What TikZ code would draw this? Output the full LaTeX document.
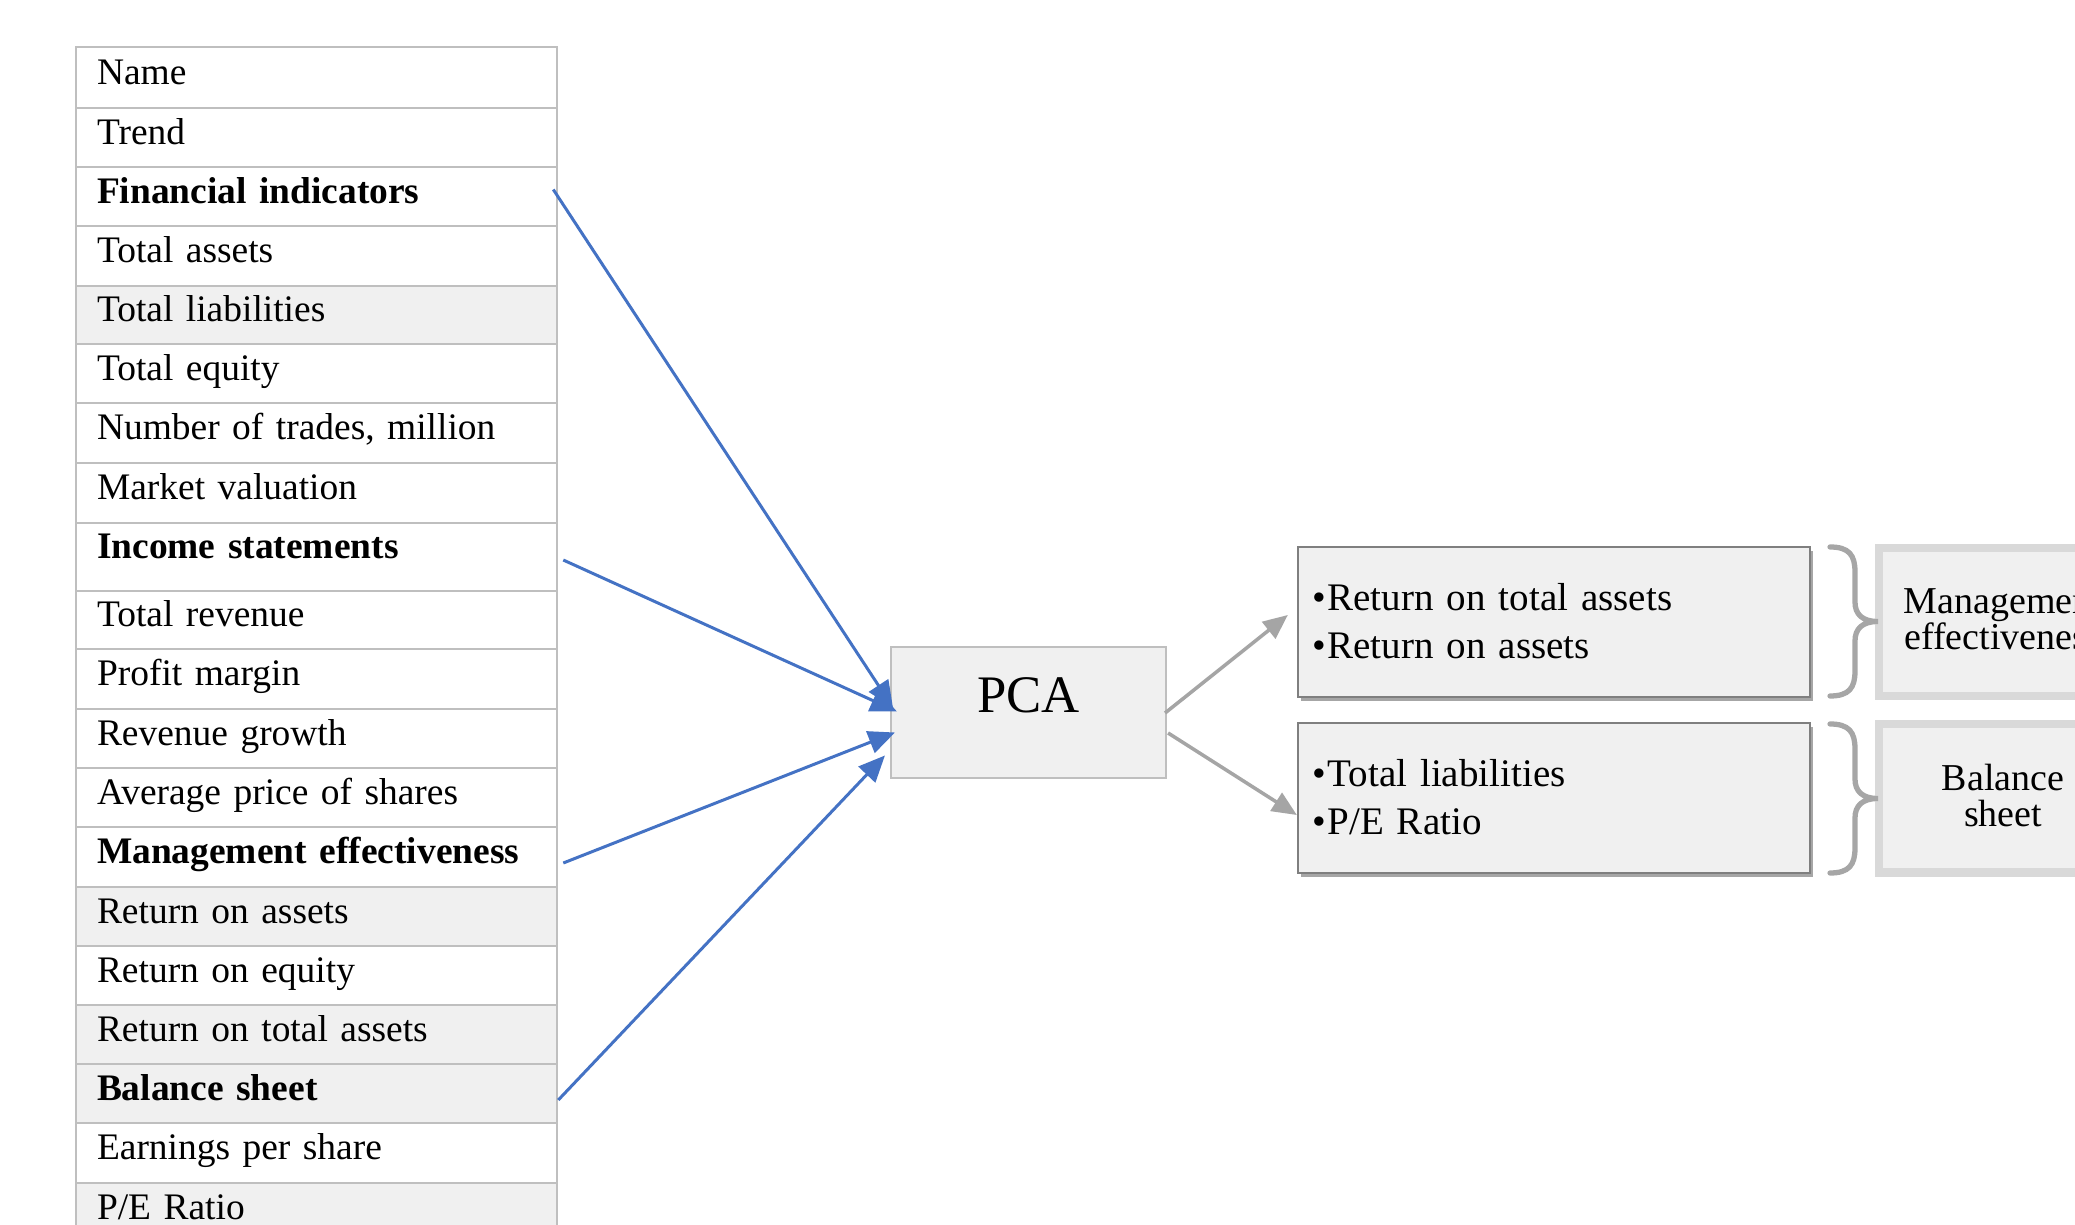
\documentclass[tikz,border=0pt]{standalone}
\usepackage{fontspec}
\setmainfont{Liberation Serif}
\usetikzlibrary{arrows.meta,shadows,calc}
\definecolor{blueA}{HTML}{4472C4}
\definecolor{arrgrey}{HTML}{A5A5A5}
\definecolor{tblgrey}{HTML}{BFBFBF}
\definecolor{cellfill}{HTML}{F0F0F0}
\definecolor{resborder}{HTML}{7F7F7F}
\definecolor{labborder}{HTML}{D9D9D9}
\definecolor{bracegrey}{HTML}{A6A6A6}
\newcommand\mytabfont{\fontsize{10.65}{13}\selectfont}
\newcommand\myresfont{\fontsize{11.1}{13.4}\selectfont}
\newcommand\mylabfont{\fontsize{10.8}{10.2}\selectfont}
\begin{document}
\begin{tikzpicture}[x=0.01cm,y=-0.01cm,
  cell/.style={draw=tblgrey, line width=0.57pt, anchor=north west, outer sep=0pt,
    text width=4.39cm, inner xsep=0.21cm, inner ysep=0pt, align=left,
    font=\mytabfont, text height=7.4pt, text depth=3.7pt},
  greycell/.style={cell, fill=cellfill},
  pcabox/.style={draw=tblgrey, line width=0.6pt, fill=cellfill, minimum width=2.75cm,
    minimum height=1.31cm, font=\fontsize{15}{18}\selectfont, text height=11pt, text depth=11pt,
    inner sep=0pt, outer sep=0pt},
  resbox/.style={draw=resborder, line width=0.6pt, fill=cellfill, minimum height=1.5cm,
    text width=4.82cm, inner xsep=0.15cm, inner ysep=0pt, align=left, font=\myresfont,
    text height=8pt, text depth=14.3pt, outer sep=0pt,
    drop shadow={shadow xshift=0.9pt, shadow yshift=-1.1pt, opacity=0.35, fill=black}},
  labbox/.style={draw=labborder, line width=2.3pt, fill=cellfill, minimum width=2.48cm,
    minimum height=1.48cm, text width=2.4cm, inner sep=0pt, align=center, font=\mylabfont,
    text height=8pt, text depth=12.6pt},
  bluearrow/.style={draw=blueA, line width=0.85pt, -{Triangle[length=7.5pt,width=6.5pt]}},
  greyarrow/.style={draw=arrgrey, line width=1pt, -{Triangle[length=7pt,width=6pt]}},
  bracestyle/.style={draw=bracegrey, line width=1.5pt, line cap=round}
]
\useasboundingbox (0,0) rectangle (2075,1225);
\fill[white] (0,0) rectangle (2075,1225);
\clip (0,0) rectangle (2075,1225);

% table
\node[cell, minimum height=0.61cm] (name) at (76,47) {Name};
\node[cell, minimum height=0.59cm] (trend) at (76,108) {Trend};
\node[cell, minimum height=0.59cm] (fin) at (76,167) {\textbf{Financial indicators}};
\node[cell, minimum height=0.60cm] (tassets) at (76,226) {Total assets};
\node[greycell, minimum height=0.58cm] (tliab) at (76,286) {Total liabilities};
\node[cell, minimum height=0.59cm] (teq) at (76,344) {Total equity};
\node[cell, minimum height=0.60cm] (ntrades) at (76,403) {Number of trades, million};
\node[cell, minimum height=0.60cm] (mval) at (76,463) {Market valuation};
\node[cell, minimum height=0.68cm, text depth=6.8pt] (income) at (76,523) {\textbf{Income statements}};
\node[cell, minimum height=0.58cm] (trev) at (76,591) {Total revenue};
\node[cell, minimum height=0.60cm] (pmargin) at (76,649) {Profit margin};
\node[cell, minimum height=0.59cm] (rgrowth) at (76,709) {Revenue growth};
\node[cell, minimum height=0.59cm] (avgprice) at (76,768) {Average price of shares};
\node[cell, minimum height=0.60cm] (mgmt) at (76,827) {\textbf{Management effectiveness}};
\node[greycell, minimum height=0.59cm] (roa) at (76,887) {Return on assets};
\node[cell, minimum height=0.59cm] (roe) at (76,946) {Return on equity};
\node[greycell, minimum height=0.59cm] (rota) at (76,1005) {Return on total assets};
\node[greycell, minimum height=0.59cm] (bal) at (76,1064) {\textbf{Balance sheet}};
\node[cell, minimum height=0.60cm] (eps) at (76,1123) {Earnings per share};
\node[greycell, minimum height=0.60cm] (pe) at (76,1183) {P/E Ratio};

% PCA
\node[pcabox] (pca) at (1028.5,712.5) {PCA};

% result boxes
\node[resbox] (res1) at (1554,622) {•\hspace{0.3pt}Return on total assets\\•\hspace{0.3pt}Return on assets};
\node[resbox] (res2) at (1554,798) {•\hspace{0.3pt}Total liabilities\\•\hspace{0.3pt}P/E Ratio};

% label boxes
\node[labbox] (lab1) at (2003,622) {Management\\effectiveness};
\node[labbox, text depth=12.3pt] (lab2) at (2003,798.5) {Balance\\sheet};

% braces
\draw[bracestyle] (1830,547) .. controls (1849,547) and (1855,555) .. (1855,572) -- (1855,602)
  .. controls (1855,614) and (1862,621.5) .. (1878,621.5)
  .. controls (1862,621.5) and (1855,629) .. (1855,641) -- (1855,671)
  .. controls (1855,688) and (1849,696) .. (1830,696);
\draw[bracestyle] (1830,724) .. controls (1849,724) and (1855,732) .. (1855,749) -- (1855,779)
  .. controls (1855,791) and (1862,798.5) .. (1878,798.5)
  .. controls (1862,798.5) and (1855,806) .. (1855,818) -- (1855,848)
  .. controls (1855,865) and (1849,873) .. (1830,873);

% blue arrows
\draw[bluearrow] ($(fin.east)+(-4,-7)$) -- ($(pca.west)+(2,-5)$);
\draw[bluearrow] ($(income.east)+(6,3)$) -- ($(pca.west)+(6,-1)$);
\draw[bluearrow] ($(mgmt.east)+(6,6)$) -- ($(pca.west)+(4,20)$);
\draw[bluearrow] ($(bal.east)+(1,6.5)$) -- ($(pca.west)+(-6,43)$);

% grey arrows
\draw[greyarrow] ($(pca.east)+(-1,0.5)$) -- ($(res1.west)+(-10,-7)$);
\draw[greyarrow] ($(pca.east)+(2,20.5)$) -- ($(res2.west)+(-1,17)$);
\end{tikzpicture}
\end{document}
